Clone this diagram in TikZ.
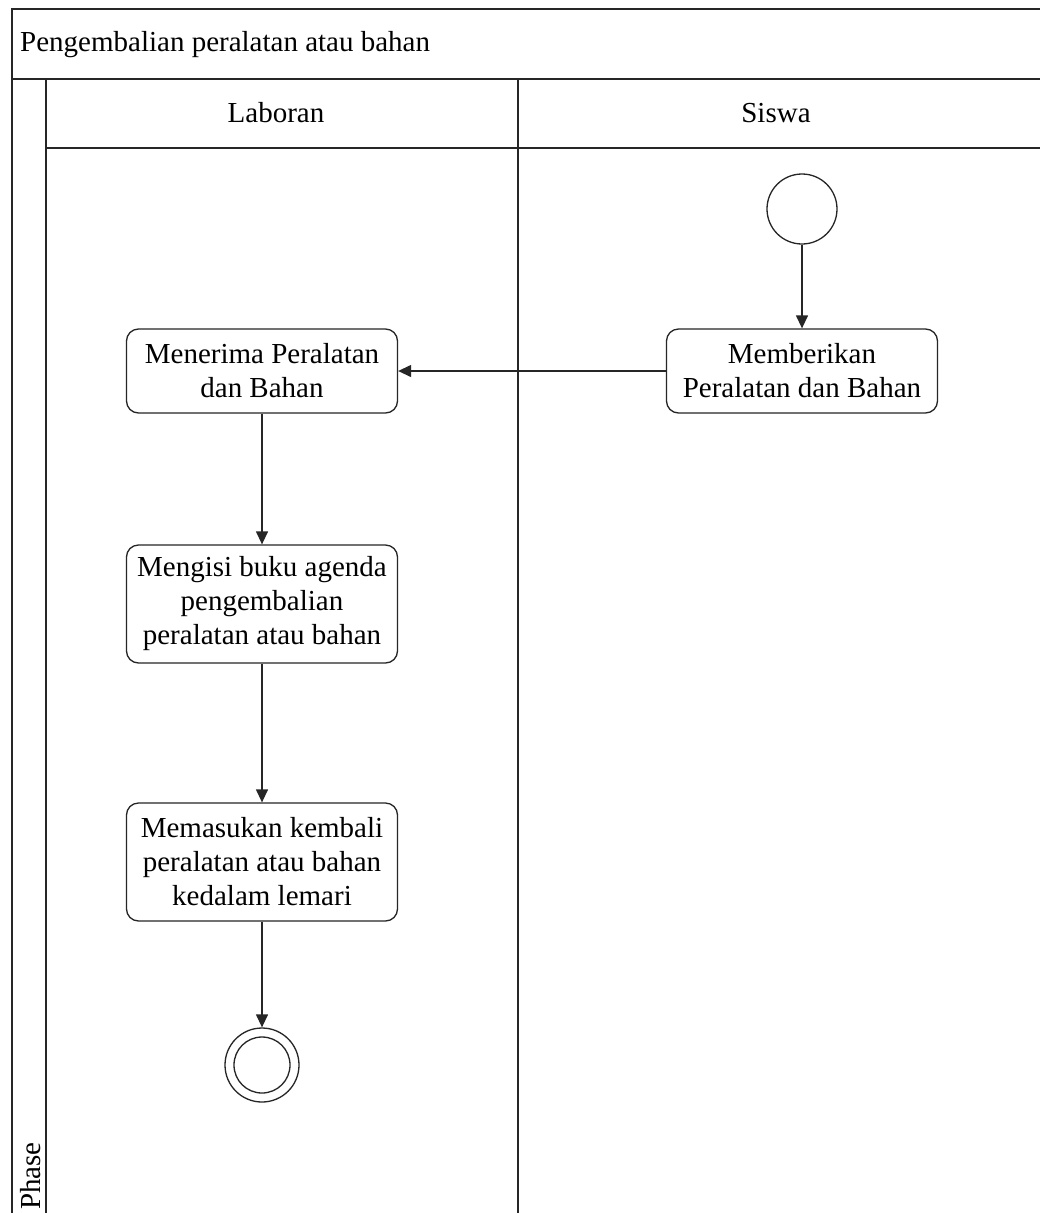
\documentclass[tikz,border=0pt]{standalone}
\usepackage{fontspec}
\setmainfont{Liberation Serif}
\usetikzlibrary{arrows.meta}
\begin{document}
\begin{tikzpicture}[x=1pt,y=-1pt,
  lane/.style={draw=black!85,line width=1.6pt},
  act/.style={draw=black!85,line width=1.3pt,rounded corners=12pt,fill=white,minimum width=271pt,minimum height=84pt,align=center,font=\fontsize{29}{34}\selectfont,inner sep=0pt},
  flow/.style={draw=black!85,line width=1.3pt,-{Triangle[length=13pt,width=12pt]}},
  lbl/.style={font=\fontsize{29}{34}\selectfont}]
\path[use as bounding box] (0,0) rectangle (1040,1213);
\begin{scope}
\clip (0,0) rectangle (1040,1213);
\fill[white] (0,0) rectangle (1040,1213);
\draw[lane] (1060,9) -- (12,9) -- (12,1240);
\draw[lane] (12,79) -- (1060,79);
\draw[lane] (46,79) -- (46,1240);
\draw[lane] (46,148) -- (1060,148);
\draw[lane] (518,79) -- (518,1240);
\node[lbl,anchor=west,inner sep=0pt] (title) at (20,45) {Pengembalian peralatan atau bahan};
\node[lbl] (laboran) at (276,113) {Laboran};
\node[lbl] (siswa) at (776,113) {Siswa};
\node[lbl,rotate=90,anchor=base west,inner sep=0pt] (phase) at (40,1210) {Phase};
\node[circle,draw=black!85,line width=1.3pt,minimum size=70pt,inner sep=0pt,fill=white] (start) at (802,209) {};
\node[act] (beri) at (802,371) {Memberikan\\Peralatan dan Bahan};
\node[act] (terima) at (262,371) {Menerima Peralatan\\dan Bahan};
\node[act,minimum height=118pt] (isi) at (262,604) {Mengisi buku agenda\\pengembalian\\peralatan atau bahan};
\node[act,minimum height=118pt] (masuk) at (262,862) {Memasukan kembali\\peralatan atau bahan\\kedalam lemari};
\node[circle,draw=black!85,line width=1.3pt,minimum size=74pt,inner sep=0pt,fill=white] (end) at (262,1065) {};
\node[circle,draw=black!85,line width=1.3pt,minimum size=56pt,inner sep=0pt] (endin) at (262,1065) {};
\draw[flow] (start) -- (beri);
\draw[flow] (beri) -- (terima);
\draw[flow] (terima) -- (isi);
\draw[flow] (isi) -- (masuk);
\draw[flow] (masuk) -- (end);
\end{scope}
\end{tikzpicture}
\end{document}
